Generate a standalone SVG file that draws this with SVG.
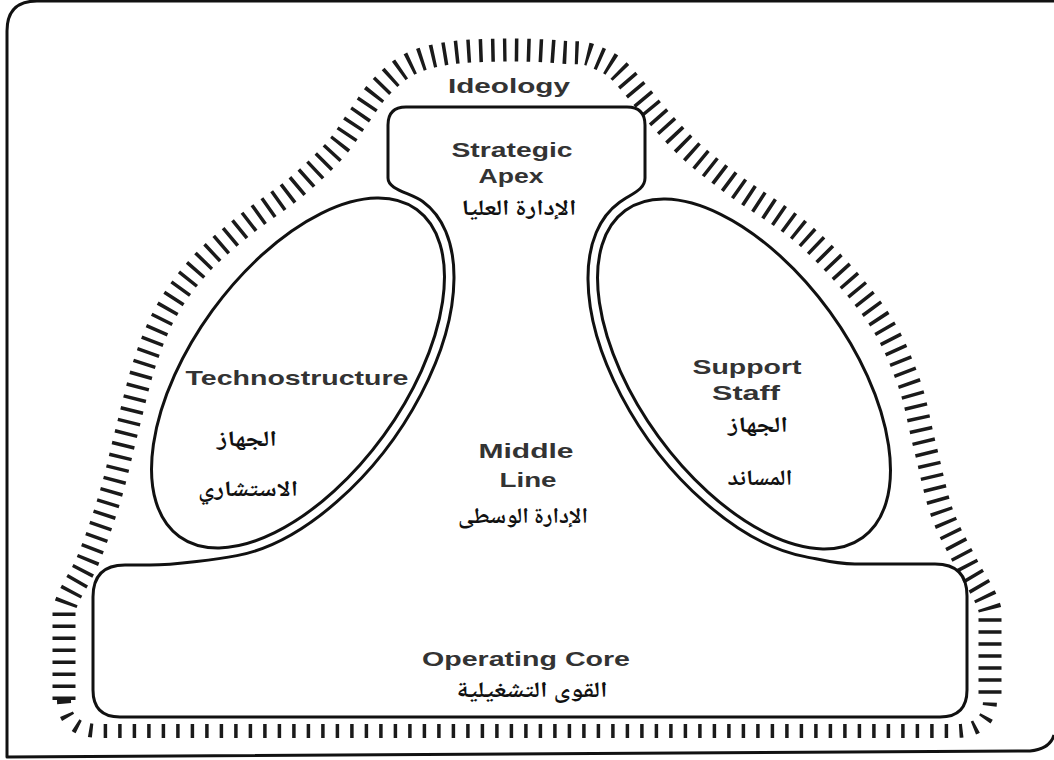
<svg xmlns="http://www.w3.org/2000/svg" width="1054" height="760" viewBox="0 0 1054 760">
<style>
.line{fill:none;stroke:#111;stroke-width:3;stroke-linejoin:round}
.hatch{fill:none;stroke:#1a1a1a;stroke-width:23;stroke-dasharray:3.5 8.5}
.hatchb{fill:none;stroke:#1a1a1a;stroke-width:14;stroke-dasharray:3.5 11}
.en{font-family:"Liberation Sans",Arial,sans-serif;font-weight:bold;font-size:21px;fill:#333;text-anchor:middle}
.ar{font-family:"Noto Naskh Arabic","Noto Sans Arabic","DejaVu Sans",sans-serif;font-weight:bold;font-size:22px;fill:#111;text-anchor:middle}
</style>
<rect width="1054" height="760" fill="#fff"/>
<g id="frame">
<path class="line" d="M1054,1 L37,1 Q7,1 7,31 L7,757 L1030,751 Q1050,749 1054,735"/>
</g>
<g id="ideology">
<path class="hatch" d="M64,700 L64,610 C68,593.3 80.3,578.8 88,560 C95.7,541.2 103.5,518.7 110,497 C116.5,475.3 121.2,452.5 127,430 C132.8,407.5 138.3,382 145,362 C151.7,342 157.8,326.2 167,310 C176.2,293.8 187,279.2 200,265 C213,250.8 229.2,237.8 245,225 C260.8,212.2 280,200.5 295,188 C310,175.5 324.5,161.7 335,150 C345.5,138.3 350.5,128.3 358,118 C365.5,107.7 371.3,97 380,88 C388.7,79 398.3,69.8 410,64 C421.7,58.2 434.2,55.3 450,53 C465.8,50.7 486.7,50.3 505,50 C523.3,49.7 545.3,50.7 560,52 C574.7,53.3 583.5,51.5 593,56 C602.5,60 609.2,62.5 617,69 C624.8,76.3 632.5,86.3 640,95 C647.5,103.7 653.3,111.5 662,121 C670.7,130.5 679.8,141.2 692,152 C704.2,162.8 715.7,171.7 735,186 C754.3,200.3 784.7,216.8 808,238 C831.3,259.2 858.3,289.3 875,313 C891.7,336.7 899.7,357.7 908,380 C916.3,402.3 919.3,424.8 925,447 C930.7,469.2 935.2,493.7 942,513 C948.8,532.3 958,546.8 966,563 C974,579.2 986,593.8 990,610 L990,700"/>
<path class="hatchb" d="M64,700 Q64,731 100,731 L955,731 Q990,731 990,700"/>
<text class="en" x="509" y="93" textLength="122" lengthAdjust="spacingAndGlyphs">Ideology</text>
</g>
<g id="connectors">
<path class="line" d="M388,125 Q388,107 406,107 L627,107 Q645,107 645,125 L645,178 C645,190 631.4,193.7 619.3,202.5 A212,116 54 0 0 805.1,556.6 C820,559.4 835,564 855,564 L935,564 Q967,564 967,596 L967,690 Q967,717 940,717 L120,717 Q93,717 93,690 L93,597 Q93,565 125,565 L150,565 C175,565 220.2,558.7 236.9,555.6 A212,116 -54 0 0 422.7,201.5 C410.6,192.7 388,190 388,178 Z"/>
</g>
<g id="strategic-apex">
<text class="en" x="512" y="157" textLength="121" lengthAdjust="spacingAndGlyphs">Strategic</text>
<text class="en" x="511" y="183" textLength="65" lengthAdjust="spacingAndGlyphs">Apex</text>
<text class="ar" x="519" y="215" textLength="115" lengthAdjust="spacingAndGlyphs">الإدارة العليا</text>
</g>
<g id="technostructure">
<ellipse class="line" cx="298" cy="373" rx="202" ry="106" transform="rotate(-54 298 373)"/>
<text class="en" x="297" y="385" textLength="223" lengthAdjust="spacingAndGlyphs">Technostructure</text>
<text class="ar" x="247" y="446" textLength="60" lengthAdjust="spacingAndGlyphs">الجهاز</text>
<text class="ar" x="248" y="496" textLength="100" lengthAdjust="spacingAndGlyphs">الاستشاري</text>
</g>
<g id="support-staff">
<ellipse class="line" cx="744" cy="374" rx="202" ry="106" transform="rotate(54 744 374)"/>
<text class="en" x="747" y="374" textLength="109" lengthAdjust="spacingAndGlyphs">Support</text>
<text class="en" x="746" y="400" textLength="68" lengthAdjust="spacingAndGlyphs">Staff</text>
<text class="ar" x="758" y="432" textLength="60" lengthAdjust="spacingAndGlyphs">الجهاز</text>
<text class="ar" x="760" y="485" textLength="65" lengthAdjust="spacingAndGlyphs">المساند</text>
</g>
<g id="middle-line">
<text class="en" x="526" y="458" textLength="95" lengthAdjust="spacingAndGlyphs">Middle</text>
<text class="en" x="528" y="487" textLength="57" lengthAdjust="spacingAndGlyphs">Line</text>
<text class="ar" x="523" y="523" textLength="130" lengthAdjust="spacingAndGlyphs">الإدارة الوسطى</text>
</g>
<g id="operating-core">
<text class="en" x="526" y="666" textLength="208" lengthAdjust="spacingAndGlyphs">Operating Core</text>
<text class="ar" x="532" y="697" textLength="151" lengthAdjust="spacingAndGlyphs">القوى التشغيلية</text>
</g>
</svg>
